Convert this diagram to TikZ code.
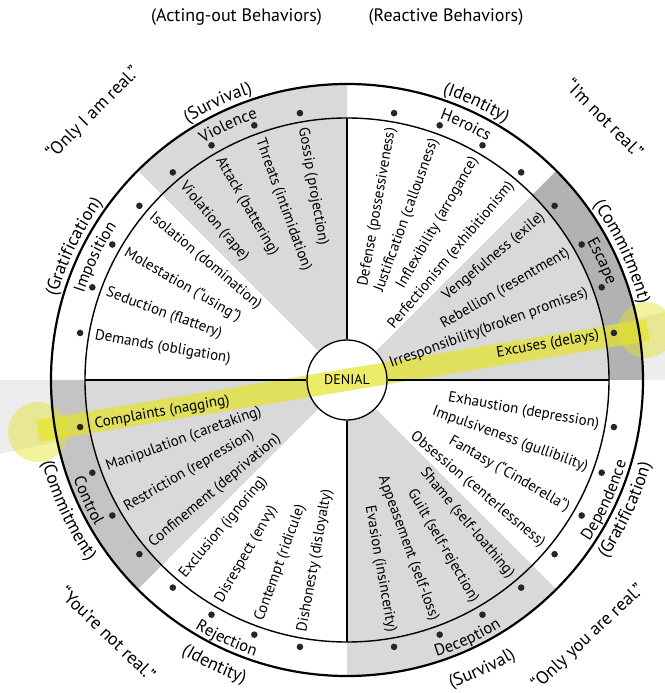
\documentclass[tikz,border=0pt]{standalone}
\usepackage{fontspec}
\setmainfont{PT Sans}
\usetikzlibrary{decorations.text}

\definecolor{shadelight}{gray}{0.85}
\definecolor{shademid}{gray}{0.77}
\definecolor{shadedark}{gray}{0.70}
\definecolor{shadeout}{gray}{0.93}
\definecolor{marker}{RGB}{228,228,40}

% filled sector of the disc: start angle, end angle, radius, colour
\newcommand\shadewedge[4]{\fill[#4] (0,0) -- (#1:#3pt) arc[start angle=#1,end angle=#2,radius=#3pt] -- cycle;}
% filled piece of a ring: start angle, end angle, inner radius, outer radius, colour
\newcommand\shadering[5]{\fill[#5] (#1:#3pt) arc[start angle=#1,end angle=#2,radius=#3pt] -- (#2:#4pt) arc[start angle=#2,end angle=#1,radius=#4pt] -- cycle;}
% text bent along a circle, clockwise (upper half) or counter-clockwise (lower half)
% arguments: centre angle, baseline radius, font size, text
\newcommand\arccw[4]{\path[decorate,decoration={text along path,text align=center,text={|\fontsize{#3}{#3}\selectfont|#4}}] ({#1+40}:#2pt) arc[start angle={#1+40},end angle={#1-40},radius=#2pt];}
\newcommand\arcccw[4]{\path[decorate,decoration={text along path,text align=center,text={|\fontsize{#3}{#3}\selectfont|#4}}] ({#1-40}:#2pt) arc[start angle={#1-40},end angle={#1+40},radius=#2pt];}

\begin{document}
\begin{tikzpicture}[x=1pt,y=1pt,
  item/.style={font=\fontsize{15}{15}\selectfont, inner sep=0pt},
  quote/.style={font=\fontsize{18}{18}\selectfont, inner sep=0pt},
  title/.style={font=\fontsize{18}{18}\selectfont, inner sep=0pt},
  divider/.style={line width=1.2pt},
  dot/.style={fill=black!85}]
\useasboundingbox (-347,380) rectangle (317,-313);

% shaded sectors
\shadewedge{90}{135}{262}{shadelight}
\shadewedge{0}{45}{262}{shadelight}
\shadewedge{180}{225}{262}{shadelight}
\shadewedge{270}{315}{262}{shadelight}
\shadering{90}{135}{262}{296}{shadelight}
\shadering{0}{45}{262}{296}{shadedark}
\shadering{180}{225}{262}{296}{shademid}
\shadering{270}{315}{262}{296}{shadelight}
\shadering{180}{192}{296}{400}{shadeout}
\shadering{0}{12}{296}{400}{shadeout}

% centre disc
\fill[white] (0,0) circle[radius=40pt];

% highlighter stroke
\fill[marker, opacity=0.45] (-309,-52) circle[radius=30pt];
\fill[marker, opacity=0.45] (299,50) circle[radius=28pt];
\draw[marker, opacity=0.7, line width=22pt] (-309,-51) -- (301,50);

% rings
\draw[line width=2.2pt] (0,0) circle[radius=296pt];
\draw[line width=1.4pt] (0,0) circle[radius=262pt];
\node[circle, draw, line width=1.3pt, minimum size=80pt, inner sep=0pt,
      font=\fontsize{14}{14}\selectfont] (denial) at (0,0) {DENIAL};

% dividers
\coordinate (top) at (90:262pt);
\coordinate (bot) at (270:262pt);
\coordinate (lft) at (180:262pt);
\coordinate (rgt) at (0:262pt);
\draw[divider] (denial.north) -- (top);
\draw[divider] (denial.south) -- (bot);
\draw[divider] (denial.west) -- (lft);
\draw[divider] (denial.east) -- (rgt);

% dots in the ring
\foreach \a in {10,20,...,80,100,110,...,170,190,200,...,260,280,290,...,350}
  \fill[dot] (\a:271pt) circle[radius=3.3pt];

% behaviours, left half (reading inward)
\foreach \a/\t in {100/Gossip (projection), 110/Threats (intimidation),
  120/Attack (battering), 130/Violation (rape),
  140/Isolation (domination), 150/Molestation (“using”),
  160/Seduction (flattery), 170/Demands (obligation),
  190/Complaints (nagging), 200/Manipulation (caretaking),
  210/Restriction (repression), 220/Confinement (deprivation),
  230/Exclusion (ignoring), 240/Disrespect (envy),
  250/Contempt (ridicule), 260/Dishonesty (disloyalty)}
  \node[item, anchor=west, rotate=\a-180] (i\a) at (\a:256pt) {\t};

% behaviours, right half (reading outward)
\foreach \a/\t in {80/Defense (possessiveness), 70/Justification (callousness),
  60/Inflexibility (arrogance), 50/Perfectionism (exhibitionism),
  40/Vengefulness (exile), 30/Rebellion (resentment),
  20/Irresponsibility(broken promises), 10/Excuses (delays),
  350/Exhaustion (depression), 340/Impulsiveness (gullibility),
  330/Fantasy (“Cinderella”), 320/Obsession (centerlessness),
  310/Shame (self-loathing), 300/Guilt (self-rejection),
  290/Appeasement (self-loss), 280/Evasion (insincerity)}
  \node[item, anchor=east, rotate=\a] (i\a) at (\a:256pt) {\t};

% ring labels
\arccw{115}{277}{16.5}{Violence}
\arccw{65}{277}{16.5}{Heroics}
\arccw{25}{277}{16.5}{Escape}
\arccw{154}{277}{16.5}{Imposition}
\arcccw{205}{291}{16.5}{Control}
\arcccw{245}{291}{16.5}{Rejection}
\arcccw{295}{291}{16.5}{Deception}
\arcccw{335}{291}{16.5}{Dependence}

% needs outside the ring
\arccw{115}{302}{18}{(Survival)}
\arccw{65}{302}{18}{(Identity)}
\arccw{25}{302}{18}{(Commitment)}
\arccw{154}{302}{18}{(Gratification)}
\arcccw{205}{316}{18}{(Commitment)}
\arcccw{245}{320}{18}{(Identity)}
\arcccw{295}{325}{18}{(Survival)}
\arcccw{335}{315}{18}{(Gratification)}

% beliefs
\node[quote, rotate=45] (q1) at (-254,267) {“Only I am real.”};
\node[quote, rotate=-45] (q2) at (258,262) {“I’m not real.”};
\node[quote, rotate=43] (q3) at (241,-257) {“Only you are real.”};
\node[quote, rotate=-44] (q4) at (-239,-253) {“You’re not real.”};

% column headings
\node[title] (t1) at (-110.5,363) {(Acting-out Behaviors)};
\node[title] (t2) at (99,363) {(Reactive Behaviors)};
\end{tikzpicture}
\end{document}
